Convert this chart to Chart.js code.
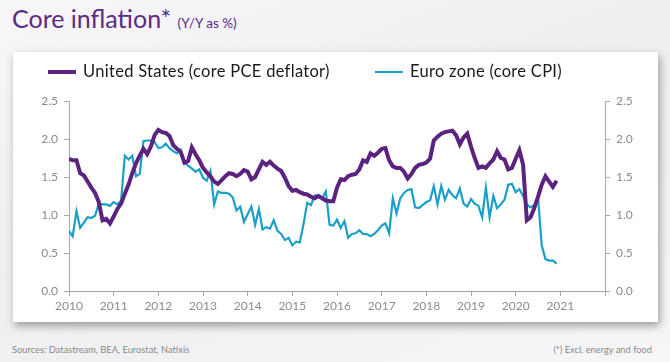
<!DOCTYPE html>
<html>
<head>
<meta charset="utf-8">
<script src="https://cdn.jsdelivr.net/npm/chart.js@4.4.1/dist/chart.umd.min.js"></script>
<style>
  html, body { margin: 0; padding: 0; }
  body {
    width: 670px; height: 362px; overflow: hidden; position: relative;
    background: linear-gradient(160deg, #f7f7f9 0%, #eeeef1 45%, #f6f6f8 100%);
    font-family: Lato, "Open Sans", sans-serif;
  }
  .title { position: absolute; left: 12px; top: 3px; color: #5b2a86; font-size: 25px; white-space: nowrap; }
  .title small { font-size: 13.5px; }
  .card {
    position: absolute; left: 13px; top: 52px; width: 645px; height: 270px;
    background: #fff; box-shadow: 2px 4px 8px rgba(0,0,0,0.35);
  }
  .legend { position: absolute; top: 61px; font-size: 16.5px; letter-spacing: 0.3px; color: #1a1a1a; white-space: nowrap; }
  .legend span.sw { display: inline-block; width: 28px; vertical-align: middle; margin-right: 7px; position: relative; top: -1px; }
  .foot { position: absolute; top: 344px; font-size: 9.3px; color: #8a8a8a; }
</style>
</head>
<body>
<div class="title">Core inflation* <small>(Y/Y as %)</small></div>
<div class="card"><canvas id="chart" width="645" height="270"></canvas></div>
<div class="legend" style="left:48px"><span class="sw" style="height:4px;background:#5b237f"></span>United States (core PCE deflator)</div>
<div class="legend" style="left:375px"><span class="sw" style="height:2.5px;background:#1aa0c8"></span>Euro zone (core CPI)</div>
<div class="foot" style="left:12px">Sources: Datastream, BEA, Eurostat, Natixis</div>
<div class="foot" style="right:18px">(*) Excl. energy and food</div>
<script>
// monthly series, Jan 2010 -> Dec 2020
const startYear = 2010;
const seriesNames = ['United States (core PCE deflator)', 'Euro zone (core CPI)'];
const usCorePce = [
  1.74, 1.72, 1.72, 1.55, 1.52, 1.44, 1.36, 1.29, 1.17, 0.93, 0.95, 0.89,
  0.98, 1.08, 1.15, 1.28, 1.40, 1.55, 1.68, 1.78, 1.87, 1.80, 1.90, 2.05,
  2.12, 2.09, 2.08, 2.04, 1.92, 1.87, 1.83, 1.69, 1.71, 1.89, 1.80, 1.72,
  1.62, 1.56, 1.51, 1.44, 1.41, 1.46, 1.51, 1.55, 1.54, 1.51, 1.54, 1.59,
  1.57, 1.47, 1.50, 1.60, 1.70, 1.66, 1.70, 1.65, 1.61, 1.58, 1.49, 1.38,
  1.32, 1.33, 1.30, 1.28, 1.27, 1.24, 1.22, 1.25, 1.22, 1.19, 1.18, 1.18,
  1.36, 1.47, 1.46, 1.51, 1.53, 1.54, 1.60, 1.72, 1.70, 1.81, 1.78, 1.82,
  1.87, 1.88, 1.72, 1.64, 1.62, 1.62, 1.57, 1.48, 1.54, 1.62, 1.66, 1.67,
  1.69, 1.74, 1.98, 2.03, 2.07, 2.09, 2.10, 2.11, 2.05, 1.93, 2.02, 2.07,
  1.90, 1.75, 1.62, 1.64, 1.62, 1.68, 1.73, 1.84, 1.75, 1.73, 1.60, 1.62,
  1.74, 1.85, 1.66, 0.93, 0.97, 1.09, 1.24, 1.40, 1.51, 1.44, 1.37, 1.45
];
const ezCoreCpi = [
  0.79, 0.72, 1.05, 0.83, 0.90, 0.97, 0.96, 0.99, 1.15, 1.14, 1.14, 1.12,
  1.17, 1.14, 1.19, 1.78, 1.73, 1.78, 1.51, 1.54, 1.97, 1.98, 1.98, 1.96,
  1.88, 1.89, 1.94, 1.88, 1.84, 1.81, 1.86, 1.69, 1.65, 1.61, 1.57, 1.60,
  1.49, 1.45, 1.58, 1.14, 1.31, 1.29, 1.29, 1.28, 1.23, 1.06, 1.11, 0.91,
  1.01, 1.11, 0.87, 1.08, 0.81, 0.84, 0.82, 0.93, 0.79, 0.75, 0.67, 0.70,
  0.60, 0.65, 0.64, 0.88, 1.16, 1.13, 1.26, 1.26, 1.22, 1.31, 0.87, 0.86,
  0.94, 0.83, 0.92, 0.70, 0.75, 0.76, 0.80, 0.75, 0.75, 0.72, 0.75, 0.80,
  0.86, 0.89, 0.76, 1.22, 1.02, 1.22, 1.29, 1.33, 1.34, 1.10, 1.09, 1.13,
  1.17, 1.19, 1.38, 1.14, 1.38, 1.20, 1.33, 1.26, 1.22, 1.35, 1.15, 1.11,
  1.21, 1.15, 1.12, 0.97, 1.36, 0.97, 1.25, 1.09, 1.14, 1.20, 1.40, 1.41,
  1.30, 1.34, 1.25, 1.14, 1.10, 1.13, 1.24, 0.60, 0.42, 0.40, 0.40, 0.36
];
const yearTicks = [2010, 2011, 2012, 2013, 2014, 2015, 2016, 2017, 2018, 2019, 2020, 2021];
const yTicks = [0, 0.5, 1, 1.5, 2, 2.5];

function toPoints(values) {
  return values.map((v, i) => ({ x: startYear + i / 12, y: v }));
}

const axisColor = '#a6a6a6';
const tickFont = { family: 'Lato, "Open Sans", sans-serif', size: 12 };

function yAxis(position, width) {
  return {
    position: position,
    min: 0, max: 2.5,
    afterBuildTicks: axis => { axis.ticks = yTicks.map(v => ({ value: v })); },
    afterFit: axis => { axis.width = width; },
    grid: { drawOnChartArea: false, drawTicks: true, tickLength: 5, color: axisColor },
    border: { display: true, color: axisColor, width: 1 },
    ticks: { color: '#8c8c8c', font: tickFont, padding: 6, callback: v => v.toFixed(1) }
  };
}

new Chart(document.getElementById('chart').getContext('2d'), {
  type: 'line',
  data: {
    datasets: [{
      label: seriesNames[0],
      data: toPoints(usCorePce),
      borderColor: '#5b237f',
      borderWidth: 4,
      pointRadius: 0,
      tension: 0,
      yAxisID: 'y',
      order: 1
    }, {
      label: seriesNames[1],
      data: toPoints(ezCoreCpi),
      borderColor: '#1aa0c8',
      borderWidth: 2.2,
      pointRadius: 0,
      tension: 0,
      yAxisID: 'y',
      order: 2
    }]
  },
  options: {
    responsive: false,
    animation: false,
    layout: { padding: { top: 49, bottom: 0, left: 0, right: 0 } },
    plugins: { legend: { display: false }, tooltip: { enabled: false } },
    scales: {
      x: {
        type: 'linear',
        min: 2010, max: 2022,
        afterBuildTicks: axis => { axis.ticks = yearTicks.concat([2022]).map(v => ({ value: v })); },
        afterFit: axis => { axis.height = 31; },
        grid: { drawOnChartArea: false, drawTicks: true, tickLength: 5, color: axisColor },
        border: { display: true, color: axisColor, width: 1 },
        ticks: { color: '#8c8c8c', font: tickFont, padding: 3, maxRotation: 0,
                 callback: v => yearTicks.includes(v) ? String(v) : '' }
      },
      y: yAxis('left', 56),
      y2: yAxis('right', 53)
    }
  }
});
</script>
</body>
</html>
